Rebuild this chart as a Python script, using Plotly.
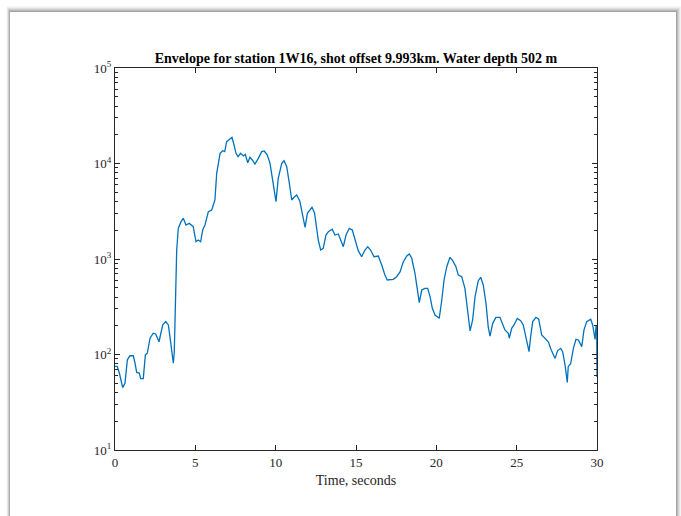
import plotly.graph_objects as go

# Envelope amplitude versus time for station 1W16
time_s = [
    0.00, 0.14, 0.27, 0.48, 0.62, 0.77, 0.93, 1.14, 1.24, 1.35,
    1.51, 1.60, 1.76, 1.89, 2.01, 2.18, 2.38, 2.53, 2.74, 2.84,
    2.97, 3.16, 3.32, 3.42, 3.53, 3.63, 3.69, 3.78, 3.84, 3.94,
    4.11, 4.25, 4.42, 4.62, 4.87, 5.04, 5.18, 5.33, 5.46, 5.60,
    5.81, 6.02, 6.22, 6.33, 6.54, 6.70, 6.83, 6.95, 7.11, 7.28,
    7.41, 7.53, 7.66, 7.82, 7.99, 8.11, 8.26, 8.40, 8.55, 8.71,
    8.92, 9.13, 9.29, 9.48, 9.65, 9.82, 10.02, 10.16, 10.38, 10.52,
    10.69, 10.85, 11.00, 11.14, 11.31, 11.50, 11.68, 11.83, 11.98, 12.14,
    12.26, 12.42, 12.55, 12.65, 12.80, 12.96, 13.13, 13.28, 13.52, 13.69,
    13.90, 14.05, 14.21, 14.38, 14.58, 14.77, 14.94, 15.14, 15.35, 15.56,
    15.73, 15.91, 16.12, 16.39, 16.60, 16.80, 16.95, 17.12, 17.32, 17.53,
    17.74, 17.94, 18.16, 18.32, 18.47, 18.67, 18.82, 18.94, 19.09, 19.29,
    19.46, 19.61, 19.75, 19.92, 20.06, 20.18, 20.34, 20.48, 20.65, 20.85,
    21.02, 21.22, 21.37, 21.58, 21.78, 21.95, 22.10, 22.26, 22.41, 22.61,
    22.76, 22.92, 23.09, 23.23, 23.34, 23.51, 23.71, 23.96, 24.13, 24.27,
    24.48, 24.54, 24.69, 24.83, 25.04, 25.25, 25.41, 25.58, 25.77, 25.87,
    26.00, 26.20, 26.37, 26.56, 26.76, 26.97, 27.14, 27.39, 27.55, 27.74,
    27.86, 28.01, 28.15, 28.21, 28.36, 28.53, 28.69, 28.84, 29.05, 29.19,
    29.36, 29.61, 29.73, 29.88, 29.94, 29.98, 30.00,
]

envelope = [
    75, 75, 64, 45, 50, 88, 97, 97, 82, 65,
    64, 56, 56, 99, 103, 148, 167, 164, 136, 167,
    204, 221, 204, 154, 103, 81, 107, 372, 1242, 2096,
    2460, 2667, 2270, 2365, 2180, 1518, 1581, 1518, 2013, 2270,
    3128, 3260, 4150, 7890, 12790, 13620, 13300, 16910, 17620, 18800,
    15630, 12790, 11780, 12790, 11990, 12480, 10190, 11610, 10890, 9880,
    11330, 13300, 13520, 12270, 10050, 6720, 3980, 7000, 10050, 10690,
    9250, 6210, 4150, 4430, 4680, 4050, 2890, 2148, 3034, 3314,
    3475, 3034, 2180, 1581, 1242, 1294, 1783, 1931, 2047, 1783,
    1828, 1581, 1345, 1783, 2096, 2013, 1581, 1222, 1057, 1242,
    1345, 1242, 1057, 1075, 865, 679, 603, 603, 613, 653,
    731, 931, 1075, 1128, 1017, 708, 473, 349, 473, 493,
    493, 403, 305, 259, 249, 239, 372, 603, 830, 1042,
    960, 830, 679, 653, 493, 292, 177, 230, 403, 593,
    643, 535, 344, 195, 156, 212, 245, 245, 212, 181,
    167, 148, 188, 204, 239, 226, 204, 148, 107, 154,
    221, 245, 234, 160, 148, 136, 113, 91, 110, 116,
    107, 78, 51, 75, 80, 116, 144, 142, 121, 181,
    221, 234, 204, 144, 199, 196, 58,
]

x_ticks = [0, 5, 10, 15, 20, 25, 30]
y_ticks = [10, 100, 1000, 10000, 100000]
y_tick_labels = ["10<sup>1</sup>", "10<sup>2</sup>", "10<sup>3</sup>",
                 "10<sup>4</sup>", "10<sup>5</sup>"]
y_minor = [m * 10 ** e for e in range(1, 5) for m in range(2, 10)]

title_text = "<b>Envelope for station 1W16, shot offset 9.993km. Water depth 502 m</b>"
x_label = "Time, seconds"

W, H = 681, 516
L, R, T, B = 115, 84, 68, 66
PW, PH = W - L - R, H - T - B


def fx(px):
    return (px - L) / PW


def fy(py):
    return (H - B - py) / PH


AXIS = "#262626"
FONT = "Liberation Serif"

fig = go.Figure()
fig.add_trace(go.Scatter(
    x=time_s, y=envelope, mode="lines",
    line=dict(color="#0072BD", width=1.3),
    hoverinfo="skip", showlegend=False,
))

# page with a soft drop shadow, heavier towards the top and right
shapes = []
for i, op in enumerate([0.04, 0.06, 0.09, 0.12, 0.16, 0.22]):
    g = 6 - i
    shapes.append(dict(
        type="rect", xref="paper", yref="paper", layer="below",
        x0=fx(10 - g * 0.6), x1=fx(676 + g * 0.9), y0=fy(540), y1=fy(12 - g),
        line=dict(width=0), fillcolor=f"rgba(80,80,80,{op})",
    ))
shapes.append(dict(
    type="rect", xref="paper", yref="paper", layer="below",
    x0=fx(10), x1=fx(676), y0=fy(540), y1=fy(12),
    line=dict(width=0), fillcolor="white",
))

fig.update_layout(
    width=W, height=H,
    margin=dict(l=L, r=R, t=T, b=B, pad=0),
    paper_bgcolor="white", plot_bgcolor="rgba(0,0,0,0)",
    font=dict(family=FONT, size=13, color=AXIS),
    shapes=shapes,
    title=dict(text=title_text, x=356 / W, xanchor="center", xref="container",
               y=1 - 58 / H, yanchor="middle", yref="container",
               font=dict(family=FONT, size=14, color="black")),
    xaxis=dict(
        range=[0, 30], tickvals=x_ticks, ticks="inside", ticklen=5,
        tickcolor=AXIS, showline=True, linecolor=AXIS, linewidth=1,
        mirror="ticks", showgrid=False, zeroline=False,
        tickfont=dict(family=FONT, size=13, color=AXIS),
        title=dict(text=x_label, standoff=6,
                   font=dict(family=FONT, size=14, color=AXIS)),
    ),
    yaxis=dict(
        type="log", range=[1, 5], tickvals=y_ticks, ticktext=y_tick_labels,
        ticks="inside", ticklen=5, tickcolor=AXIS, showline=True,
        linecolor=AXIS, linewidth=1, mirror="ticks", showgrid=False,
        zeroline=False, tickfont=dict(family=FONT, size=13, color=AXIS),
        minor=dict(tickmode="array", tickvals=y_minor, ticks="inside",
                   ticklen=3, tickcolor=AXIS, showgrid=False),
    ),
)

fig.write_html("out.html")
